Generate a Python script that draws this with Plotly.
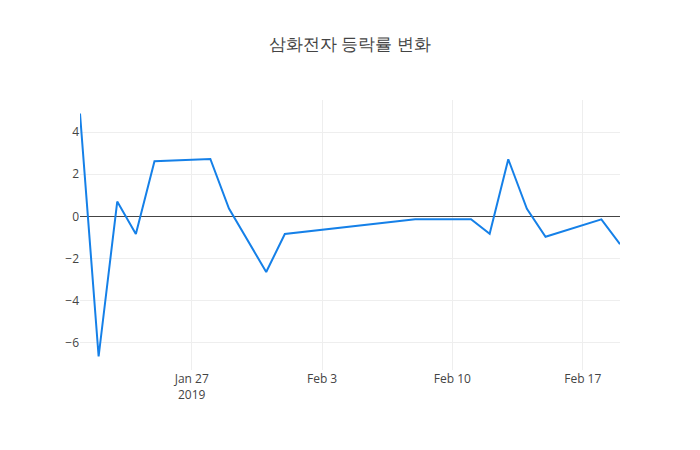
import pandas as pd
import plotly.graph_objects as go

# 삼화전자 daily change rate (%)
dates = [
    "2019-01-21", "2019-01-22", "2019-01-23", "2019-01-24", "2019-01-25",
    "2019-01-28", "2019-01-29", "2019-01-31", "2019-02-01",
    "2019-02-08", "2019-02-11", "2019-02-12", "2019-02-13", "2019-02-14",
    "2019-02-15", "2019-02-18", "2019-02-19",
]
change_rate = [
    4.88, -6.65, 0.70, -0.84, 2.62,
    2.72, 0.37, -2.64, -0.84,
    -0.14, -0.14, -0.83, 2.71, 0.36,
    -0.97, -0.14, -1.32,
]

df = pd.DataFrame({"date": pd.to_datetime(dates), "rate": change_rate})

fig = go.Figure()
fig.add_scatter(
    x=df["date"], y=df["rate"],
    mode="lines",
    line=dict(color="#1580e8", width=2),
    name="등락률",
)

# page body has an 8px margin, so shrink the figure to fit the window
fig.update_layout(
    template="none",
    title=dict(text="삼화전자 등락률 변화", x=0.5, xref="paper",
               y=0.917, yanchor="middle"),
    width=684, height=434,
    margin=dict(l=72, r=72, t=92, b=72),
    showlegend=False,
)

fig.write_html("out.html")
